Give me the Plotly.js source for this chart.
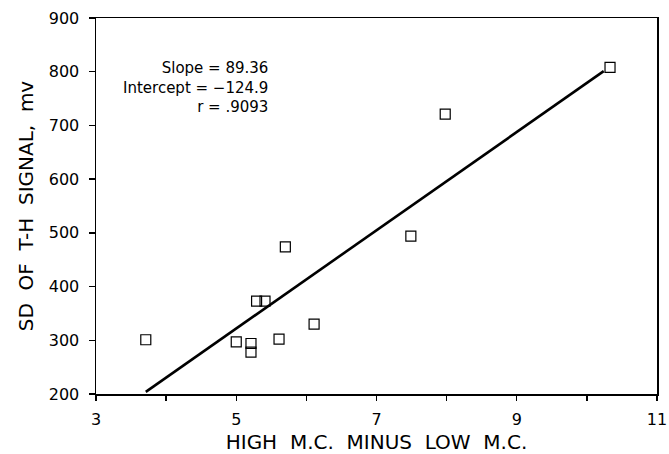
<!DOCTYPE html>
<html>
<head>
<meta charset="utf-8">
<script src="https://cdn.plot.ly/plotly-3.0.1.min.js"></script>
<style>html,body{margin:0;padding:0;background:#fff;}#chart{width:669px;height:454px;}</style>
</head>
<body>
<div id="chart"></div>
<script>
// Data
const xValues = [3.71, 5.0, 5.21, 5.21, 5.29, 5.41, 5.61, 5.70, 6.11, 7.49, 7.98, 10.33];
const yValues = [301, 297, 294, 278, 373, 373, 302, 474, 330, 494, 721, 808];
const fitX = [3.71, 10.24];
const fitY = [204, 801];
const slopeText = "89.36";
const interceptText = "\u2212124.9";
const rText = ".9093";
const xTickVals = [3, 4, 5, 6, 7, 8, 9, 10, 11];
const xTickText = ["3", "", "5", "", "7", "", "9", "", "11"];
const yTickVals = [200, 300, 400, 500, 600, 700, 800, 900];
const xTitle = "HIGH\u00A0 M.C.\u00A0 MINUS\u00A0 LOW\u00A0 M.C.";
const yTitle = "SD\u00A0 OF\u00A0 T-H\u00A0 SIGNAL,\u00A0 mv";

const font = "DejaVu Sans, Arial, sans-serif";

const traces = [
  {
    x: fitX, y: fitY, mode: "lines", type: "scatter",
    line: {color: "#000", width: 2.6}, hoverinfo: "skip", showlegend: false
  },
  {
    x: xValues, y: yValues, mode: "markers", type: "scatter",
    marker: {symbol: "square-open", size: 10, color: "#000", line: {width: 1.2, color: "#000"}},
    showlegend: false
  }
];

const layout = {
  width: 669, height: 454,
  margin: {l: 96, r: 12, t: 18, b: 60},
  paper_bgcolor: "#fff", plot_bgcolor: "#fff",
  font: {family: font, color: "#000", size: 16},
  xaxis: {
    range: [3, 11], tickmode: "array", tickvals: xTickVals, ticktext: xTickText,
    ticks: "outside", ticklen: 5, tickwidth: 1.3, tickcolor: "#000",
    showline: true, linecolor: "#000", linewidth: 1.5, mirror: true,
    showgrid: false, zeroline: false, ticklabelstandoff: 5, ticklabeloverflow: "allow",
    tickfont: {family: font, size: 16, color: "#000"},
    title: {text: xTitle, font: {family: font, size: 20, color: "#000"}, standoff: 8}
  },
  yaxis: {
    range: [200, 900], tickmode: "array", tickvals: yTickVals,
    ticks: "outside", ticklen: 6, tickwidth: 1.3, tickcolor: "#000",
    showline: true, linecolor: "#000", linewidth: 1.5, mirror: true,
    showgrid: false, zeroline: false, ticklabelstandoff: 6,
    tickfont: {family: font, size: 16, color: "#000"},
    title: {text: yTitle, font: {family: font, size: 20, color: "#000"}, standoff: 10}
  },
  annotations: [{
    xref: "paper", yref: "paper", x: 0.31, y: 0.816,
    xanchor: "right", yanchor: "middle", align: "right", showarrow: false,
    text: "Slope = " + slopeText + "<br>Intercept = " + interceptText + "<br>r = " + rText,
    font: {family: font, size: 15, color: "#000"}
  }]
};

Plotly.newPlot("chart", traces, layout, {displayModeBar: false, staticPlot: true});
</script>
</body>
</html>
